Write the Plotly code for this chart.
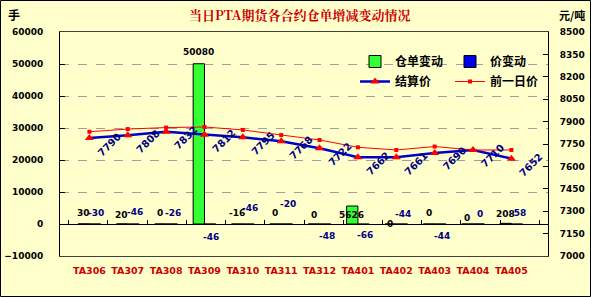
import plotly.graph_objects as go

categories = ["TA306", "TA307", "TA308", "TA309", "TA310", "TA311",
              "TA312", "TA401", "TA402", "TA403", "TA404", "TA405"]
warehouse_change = [30, 20, 0, 50080, -16, 0, 0, 5626, 0, 0, 0, 208]
price_change = [-30, -46, -26, -46, -46, -20, -48, -66, -44, -44, 0, -58]
settle_price = [7790, 7808, 7832, 7812, 7795, 7768, 7722, 7662, 7661, 7690, 7710, 7652]
prev_price = [7832, 7850, 7860, 7864, 7844, 7810, 7777, 7728, 7710, 7733, 7710, 7710]

# label placement styles (pixel offsets)
wh_label_yshift = [11, 9, 11, 12, 11, 11, 9, -9, 0, 11, 6, 9]
pc_label_yshift = [11, 12, 11, -13, 16, 20, -12, -11, 10, -12, 10, 11]

BG = "#FFFFCC"
NAVY = "#000080"
TICKFONT = dict(family="DejaVu Sans", size=9, color="black", weight="bold")

fig = go.Figure()
fig.add_trace(go.Bar(x=categories, y=warehouse_change, name="仓单变动",
                     marker=dict(color="#33FF33", line=dict(color="black", width=1)),
                     legend="legend", yaxis="y"))
fig.add_trace(go.Bar(x=categories, y=price_change, name="价变动",
                     marker=dict(color="#0000EE", line=dict(color="black", width=1)),
                     legend="legend", yaxis="y"))
fig.add_trace(go.Scatter(x=categories, y=settle_price, name="结算价", yaxis="y2",
                         mode="lines+markers",
                         line=dict(color="#0000CC", width=2.5),
                         marker=dict(symbol="triangle-up", size=8, color="#FF0000"),
                         legend="legend2"))
fig.add_trace(go.Scatter(x=categories, y=prev_price, name="前一日价", yaxis="y2",
                         mode="lines+markers",
                         line=dict(color="#FF0000", width=1),
                         marker=dict(symbol="square", size=4, color="#FF0000"),
                         legend="legend2"))
# dummy trace to draw the category axis crossing at zero
fig.add_trace(go.Scatter(x=categories, y=[None] * len(categories), xaxis="x2",
                         showlegend=False, hoverinfo="skip"))

annotations = []
for i, c in enumerate(categories):
    annotations.append(dict(x=c, y=warehouse_change[i], xref="x", yref="y",
                            text=str(warehouse_change[i]), showarrow=False,
                            xshift=-6, yshift=wh_label_yshift[i],
                            font=dict(family="DejaVu Sans", size=9, color="black", weight="bold")))
    annotations.append(dict(x=c, y=price_change[i], xref="x", yref="y",
                            text=str(price_change[i]), showarrow=False,
                            xshift=7, yshift=pc_label_yshift[i],
                            font=dict(family="DejaVu Sans", size=9, color=NAVY, weight="bold")))
    annotations.append(dict(x=c, y=settle_price[i], xref="x", yref="y2",
                            text=str(settle_price[i]), showarrow=False, textangle=-45,
                            xshift=20, yshift=-6,
                            font=dict(family="DejaVu Sans", size=10, color=NAVY, weight="bold")))

W, H = 591, 297
L, R, T, B = 60, 43, 32, 41
pw, ph = W - L - R, H - T - B

def px(xp):
    return (xp - L) / pw

def py(yp):
    return (H - B - yp) / ph

annotations += [
    dict(text="当日PTA期货各合约仓单增减变动情况", x=px(300), y=py(14), xref="paper", yref="paper",
         xanchor="center", yanchor="middle", showarrow=False,
         font=dict(family="Noto Serif CJK SC, Noto Sans CJK SC", size=13, color="#CC0000", weight="bold")),
    dict(text="手", x=px(14), y=py(14), xref="paper", yref="paper", showarrow=False,
         xanchor="center", yanchor="middle",
         font=dict(family="Noto Sans CJK SC", size=12, color="black", weight="bold")),
    dict(text="元/吨", x=px(572), y=py(15), xref="paper", yref="paper", showarrow=False,
         xanchor="center", yanchor="middle",
         font=dict(family="Noto Sans CJK SC", size=11, color="black", weight="bold")),
]

LEGFONT = dict(family="Noto Sans CJK SC", size=12, color="black", weight="bold")

fig.update_layout(
    width=W, height=H,
    margin=dict(l=L, r=R, t=T, b=B, autoexpand=False),
    paper_bgcolor=BG, plot_bgcolor=BG,
    barmode="group", bargap=0.41, bargroupgap=0,
    showlegend=True,
    legend=dict(x=px(355), y=py(47), xanchor="left", yanchor="top", orientation="h",
                bgcolor="rgba(0,0,0,0)", font=LEGFONT, entrywidth=50,
                itemwidth=30, tracegroupgap=0),
    legend2=dict(x=px(355), y=py(67), xanchor="left", yanchor="top", orientation="h",
                 bgcolor="rgba(0,0,0,0)", font=LEGFONT, entrywidth=50,
                 itemwidth=30, tracegroupgap=0),
    xaxis=dict(type="category", categoryorder="array", categoryarray=categories,
               showline=True, linecolor="#404040", linewidth=1, mirror=True,
               ticks="", showgrid=False, tickangle=0, automargin=False,
               tickfont=dict(family="DejaVu Sans", size=9.5, color="#CC0000", weight="bold"),
               ticklabelstandoff=6),
    xaxis2=dict(type="category", categoryorder="array", categoryarray=categories,
                overlaying="x", anchor="free", position=1 / 7,
                showline=True, linecolor="black", linewidth=1,
                ticks="inside", ticklen=4, tickcolor="black", tickson="boundaries",
                showticklabels=False, showgrid=False, zeroline=False),
    yaxis=dict(range=[-10000, 60000], dtick=10000, tick0=0, tickformat="d",
               showline=True, linecolor="black", automargin=False,
               ticks="inside", ticklen=5, tickcolor="black",
               showgrid=True, gridcolor="#A0A0A0", griddash="dash", gridwidth=1,
               zeroline=False, tickfont=TICKFONT, ticklabelstandoff=14),
    yaxis2=dict(range=[7000, 8500], dtick=150, tick0=7000, tickformat="d",
                overlaying="y", side="right", automargin=False,
                showline=True, linecolor="black", ticks="inside", ticklen=5, tickcolor="black",
                showgrid=False, zeroline=False, tickfont=TICKFONT, ticklabelstandoff=9),
    annotations=annotations,
    shapes=[dict(type="rect", xref="paper", yref="paper",
                 x0=px(0.5), x1=px(W - 0.5), y0=py(H - 0.5), y1=py(0.5),
                 line=dict(color="black", width=1))],
)

fig.write_html("out.html")
